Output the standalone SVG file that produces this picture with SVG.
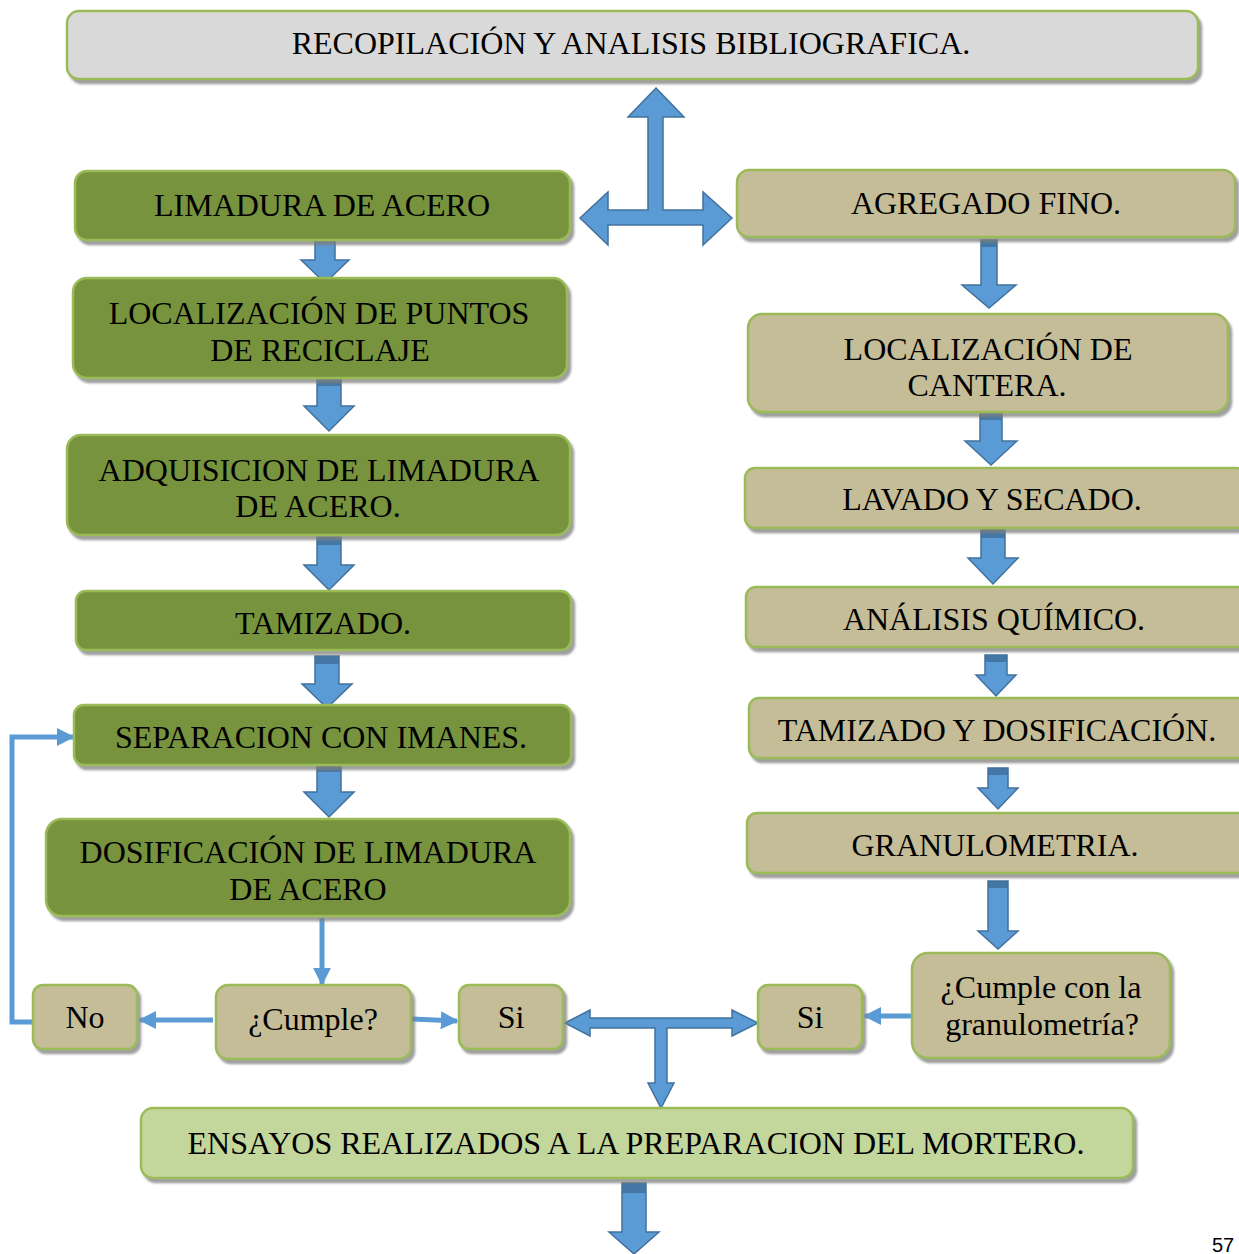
<svg xmlns="http://www.w3.org/2000/svg" width="1239" height="1254" viewBox="0 0 1239 1254">
<defs>
<filter id="sh" x="-5%" y="-10%" width="115%" height="130%">
<feDropShadow dx="3" dy="4" stdDeviation="1" flood-color="#7f7f7f" flood-opacity="0.75"/>
</filter>
<marker id="ah" viewBox="0 0 10 10" refX="9" refY="5" markerWidth="3.6" markerHeight="4" orient="auto" markerUnits="strokeWidth">
<path d="M0,0 L10,5 L0,10 Z" fill="#5b9bd5"/>
</marker>
</defs>
<style>
.box{stroke:#9bbb59;stroke-width:2.5;filter:url(#sh)}
.g{fill:#77933c}
.t{fill:#c4bd97}
.gr{fill:#d9d9d9}
.lg{fill:#c3d69b}
text{font-family:"Liberation Serif","Times New Roman",serif;font-size:32px;fill:#000;text-anchor:middle}
.blk{fill:#5b9bd5;stroke:#41719c;stroke-width:1.5;stroke-linejoin:miter}
.cap{fill:#41719c;opacity:0.85}
.ln{fill:none;stroke:#5b9bd5;stroke-width:5;marker-end:url(#ah)}
</style>
<rect width="1239" height="1254" fill="#ffffff"/>

<g id="connectors">
<polygon class="blk" points="656,88 684,117 663,117 663,210 703,210 703,192 732,218 703,245 703,225 608,225 608,245 580,218 608,192 608,210 648,210 648,117 628,117"/>
<polygon class="blk" points="565,1023 590,1010 590,1018 732,1018 732,1010 758,1023 732,1036 732,1028 667,1028 667,1083 674,1083 661,1108 648,1083 655,1083 655,1028 590,1028 590,1036"/>
<polygon class="blk" points="315,234 335,234 335,260 349,260 325,283 301,260 315,260"/>
<rect class="cap" x="315" y="234" width="20" height="8"/>
<polygon class="blk" points="317,378 341,378 341,406 354,406 329,431 304,406 317,406"/>
<rect class="cap" x="317" y="378" width="24" height="8"/>
<polygon class="blk" points="317,537 341,537 341,565 354,565 329,590 304,565 317,565"/>
<rect class="cap" x="317" y="537" width="24" height="8"/>
<polygon class="blk" points="315,656 339,656 339,684 352,684 327,708 302,684 315,684"/>
<rect class="cap" x="315" y="656" width="24" height="8"/>
<polygon class="blk" points="317,764 341,764 341,792 354,792 329,817 304,792 317,792"/>
<rect class="cap" x="317" y="764" width="24" height="8"/>
<polygon class="blk" points="981,240 997,240 997,285 1016,285 989,308 962,285 981,285"/>
<rect class="cap" x="981" y="240" width="16" height="7"/>
<polygon class="blk" points="980,412 1002,412 1002,441 1017,441 991,465 965,441 980,441"/>
<rect class="cap" x="980" y="412" width="22" height="8"/>
<polygon class="blk" points="981,530 1005,530 1005,558 1018,558 993,584 968,558 981,558"/>
<rect class="cap" x="981" y="530" width="24" height="8"/>
<polygon class="blk" points="985,655 1007,655 1007,675 1016,675 996,696 976,675 985,675"/>
<rect class="cap" x="985" y="655" width="22" height="7"/>
<polygon class="blk" points="988,768 1008,768 1008,788 1018,788 998,809 978,788 988,788"/>
<rect class="cap" x="988" y="768" width="20" height="7"/>
<polygon class="blk" points="988,881 1008,881 1008,931 1018,931 998,949 978,931 988,931"/>
<rect class="cap" x="988" y="881" width="20" height="7"/>
<polygon class="blk" points="622,1183 646,1183 646,1232 659,1232 634,1254 609,1232 622,1232"/>
<rect class="cap" x="622" y="1183" width="24" height="10"/>
<polyline class="ln" points="35,1022 12,1022 12,737 73,737"/>
<line class="ln" x1="322" y1="918" x2="322" y2="984"/>
<line class="ln" x1="213" y1="1020" x2="140" y2="1020"/>
<line class="ln" x1="412" y1="1019" x2="457" y2="1021"/>
<line class="ln" x1="912" y1="1016" x2="865" y2="1016"/>
</g>

<g id="n-recopilacion">
<rect class="box gr" x="67" y="11" width="1131" height="68" rx="12"/>
<text x="631" y="54">RECOPILACIÓN Y ANALISIS BIBLIOGRAFICA.</text>
</g>
<g id="n-limadura">
<rect class="box g" x="75" y="171" width="495" height="69" rx="12"/>
<text x="322" y="216">LIMADURA DE ACERO</text>
</g>
<g id="n-localizacion-puntos">
<rect class="box g" x="73" y="278" width="494" height="100" rx="14"/>
<text x="319" y="324">LOCALIZACIÓN DE PUNTOS</text>
<text x="320" y="361">DE RECICLAJE</text>
</g>
<g id="n-adquisicion">
<rect class="box g" x="67" y="435" width="503" height="100" rx="14"/>
<text x="319" y="481">ADQUISICION DE LIMADURA</text>
<text x="318" y="517">DE ACERO.</text>
</g>
<g id="n-tamizado">
<rect class="box g" x="76" y="591" width="495" height="59" rx="10"/>
<text x="323" y="634">TAMIZADO.</text>
</g>
<g id="n-separacion">
<rect class="box g" x="74" y="705" width="497" height="60" rx="10"/>
<text x="321" y="748">SEPARACION CON IMANES.</text>
</g>
<g id="n-dosificacion">
<rect class="box g" x="46" y="819" width="524" height="97" rx="16"/>
<text x="308" y="863">DOSIFICACIÓN DE LIMADURA</text>
<text x="308" y="900">DE ACERO</text>
</g>
<g id="n-agregado">
<rect class="box t" x="737" y="170" width="498" height="67" rx="12"/>
<text x="986" y="214">AGREGADO FINO.</text>
</g>
<g id="n-localizacion-cantera">
<rect class="box t" x="748" y="314" width="480" height="98" rx="14"/>
<text x="988" y="360">LOCALIZACIÓN DE</text>
<text x="987" y="396">CANTERA.</text>
</g>
<g id="n-lavado">
<rect class="box t" x="745" y="468" width="502" height="60" rx="10"/>
<text x="992" y="510">LAVADO Y SECADO.</text>
</g>
<g id="n-analisis">
<rect class="box t" x="746" y="587" width="502" height="60" rx="10"/>
<text x="994" y="630">ANÁLISIS QUÍMICO.</text>
</g>
<g id="n-tamizado-dos">
<rect class="box t" x="749" y="698" width="500" height="60" rx="10"/>
<text x="997" y="741">TAMIZADO Y DOSIFICACIÓN.</text>
</g>
<g id="n-granulometria">
<rect class="box t" x="747" y="813" width="502" height="60" rx="10"/>
<text x="995" y="856">GRANULOMETRIA.</text>
</g>
<g id="n-no">
<rect class="box t" x="33" y="985" width="104" height="64" rx="10"/>
<text x="85" y="1028">No</text>
</g>
<g id="n-cumple">
<rect class="box t" x="216" y="985" width="195" height="74" rx="12"/>
<text x="313" y="1030">¿Cumple?</text>
</g>
<g id="n-si-1">
<rect class="box t" x="459" y="985" width="104" height="64" rx="10"/>
<text x="511" y="1028">Si</text>
</g>
<g id="n-si-2">
<rect class="box t" x="758" y="985" width="104" height="64" rx="10"/>
<text x="810" y="1028">Si</text>
</g>
<g id="n-cumple-granulometria">
<rect class="box t" x="912" y="953" width="258" height="105" rx="16"/>
<text x="1041" y="998">¿Cumple con la</text>
<text x="1042" y="1035">granulometría?</text>
</g>
<g id="n-ensayos">
<rect class="box lg" x="141" y="1108" width="992" height="70" rx="12"/>
<text x="636" y="1154">ENSAYOS REALIZADOS A LA PREPARACION DEL MORTERO.</text>
</g>
<text x="1212" y="1252" style="font-family:'Liberation Sans',Arial,sans-serif;font-size:20px;text-anchor:start">57</text>
</svg>
